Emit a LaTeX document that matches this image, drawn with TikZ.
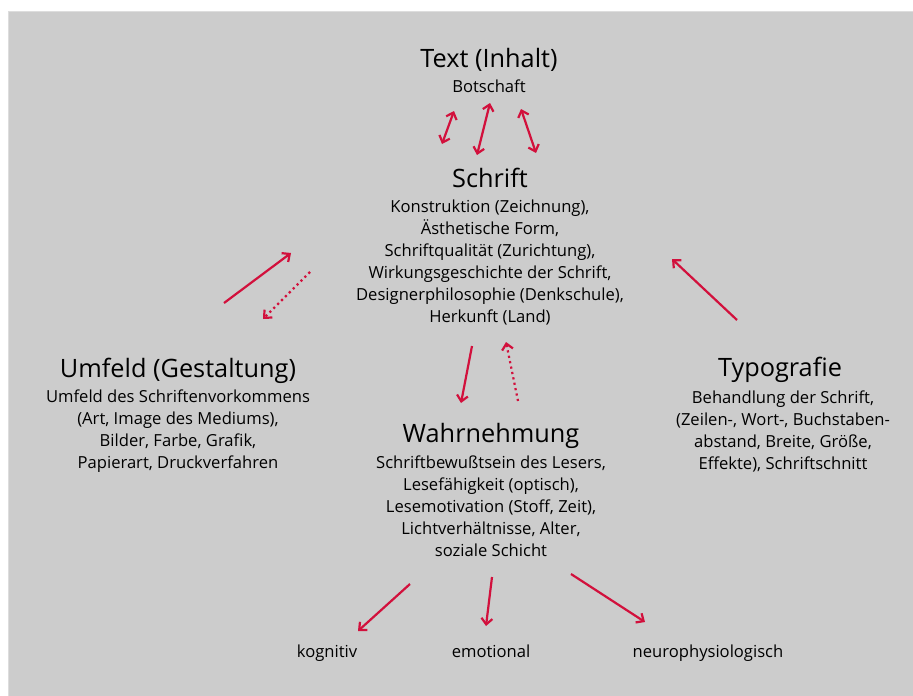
\documentclass[tikz,border=0pt]{standalone}
\usepackage{fontspec}
\setmainfont{Open Sans}
\usetikzlibrary{arrows.meta}
\definecolor{arrowred}{HTML}{D2103C}
\definecolor{panelgray}{HTML}{CCCCCC}
\definecolor{panelrim}{HTML}{DDDDDD}
\begin{document}
\begin{tikzpicture}[x=1pt,y=-1pt,inner sep=0pt,outer sep=0pt,
heading/.style={anchor=base,font=\fontsize{25.3}{30}\selectfont},
bodytext/.style={anchor=base,align=center,font=\fontsize{16.6}{22}\selectfont},
link/.style={draw=arrowred,line width=2.2pt,-{Straight Barb[length=6pt,width=11pt,line width=2.2pt]}},
twolink/.style={link,{Straight Barb[length=6pt,width=11pt,line width=2.2pt]}-{Straight Barb[length=6pt,width=11pt,line width=2.2pt]}},
hintlink/.style={link,dash pattern=on 2.2pt off 3.3pt}]
\useasboundingbox (0,0) rectangle (913,696);
\fill[panelgray,draw=panelrim,line width=1pt] (8.5,11.5) rectangle (913,696);

% Text (Inhalt)
\draw (489,67) node[heading] (text) {Text (Inhalt)};
\draw (489,92) node[bodytext] (textsub) {Botschaft};
% Schrift (Basis = letzte Zeile)
\draw (490,187) node[heading] (schrift) {Schrift};
\draw (490,322) node[bodytext] (schriftsub) {Konstruktion (Zeichnung),\\
Ästhetische Form,\\
Schriftqualität (Zurichtung),\\
Wirkungsgeschichte der Schrift,\\
Designerphilosophie (Denkschule),\\
Herkunft (Land)};
% Umfeld
\draw (178,377) node[heading] (umfeld) {Umfeld (Gestaltung)};
\draw (178,468) node[bodytext] (umfeldsub) {Umfeld des Schriftenvorkommens\\
(Art, Image des Mediums),\\
Bilder, Farbe, Grafik,\\
Papierart, Druckverfahren};
% Typografie
\draw (780,376) node[heading] (typo) {Typografie};
\draw (783,469) node[bodytext] (typosub) {Behandlung der Schrift,\\
(Zeilen-, Wort-, Buchstaben-\\
abstand, Breite, Größe,\\
Effekte), Schriftschnitt};
% Wahrnehmung
\draw (491,442) node[heading] (wahr) {Wahrnehmung};
\draw (491,556) node[bodytext] (wahrsub) {Schriftbewußtsein des Lesers,\\
Lesefähigkeit (optisch),\\
Lesemotivation (Stoff, Zeit),\\
Lichtverhältnisse, Alter,\\
soziale Schicht};
% Wirkungen
\draw (327,657) node[bodytext] (kog) {kognitiv};
\draw (491,657) node[bodytext] (emo) {emotional};
\draw (708,657) node[bodytext] (neuro) {neurophysiologisch};

% Pfeilenden
\coordinate (ta1) at (454,111); \coordinate (sa1) at (442,144);
\coordinate (ta2) at (490,103); \coordinate (sa2) at (477,155);
\coordinate (ta3) at (521,109); \coordinate (sa3) at (536,153);
\coordinate (ua) at (224,303); \coordinate (sl1) at (291,253);
\coordinate (sl2) at (310,272); \coordinate (ub) at (263,319);
\coordinate (sb1) at (472,346); \coordinate (wt1) at (461,403);
\coordinate (wt2) at (518,401); \coordinate (sb2) at (506,342);
\coordinate (ty) at (737,320); \coordinate (sr) at (672,259);
\coordinate (wb1) at (410,584); \coordinate (ko) at (358,631);
\coordinate (wb2) at (492,577); \coordinate (em) at (486,626);
\coordinate (wb3) at (571,574); \coordinate (ne) at (645,622);

\draw[twolink] (sa1) -- (ta1);
\draw[twolink] (sa2) -- (ta2);
\draw[twolink] (sa3) -- (ta3);
\draw[link] (ua) -- (sl1);
\draw[hintlink] (sl2) -- (ub);
\draw[link] (sb1) -- (wt1);
\draw[hintlink] (wt2) -- (sb2);
\draw[link] (ty) -- (sr);
\draw[link] (wb1) -- (ko);
\draw[link] (wb2) -- (em);
\draw[link] (wb3) -- (ne);
\end{tikzpicture}
\end{document}
